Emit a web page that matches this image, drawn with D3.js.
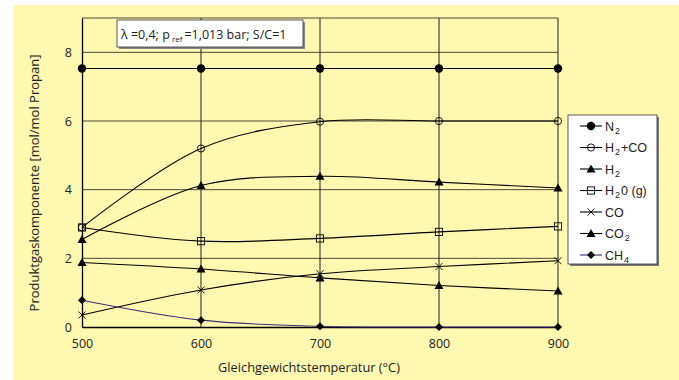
<!DOCTYPE html>
<html>
<head>
<meta charset="utf-8">
<script src="https://cdn.jsdelivr.net/npm/d3@7"></script>
<style>
  body { margin: 0; background: #fff; }
  svg text { font-family: "Open Sans", "Noto Sans", sans-serif; fill: #222; }
  .leg text { font-family: "Liberation Sans", Arial, sans-serif; }
</style>
</head>
<body>
<svg id="canvas"></svg>
<script>
const temps = [500, 600, 700, 800, 900];
const yTicks = [0, 2, 4, 6, 8];

const n2 = [7.53, 7.53, 7.53, 7.53, 7.53];
const h2co = [2.9, 5.2, 5.98, 6.0, 6.0];
const h2 = [2.55, 4.12, 4.39, 4.22, 4.05];
const h2o = [2.9, 2.5, 2.58, 2.77, 2.93];
const co = [0.35, 1.08, 1.55, 1.76, 1.93];
const co2 = [1.88, 1.69, 1.43, 1.21, 1.05];
const ch4 = [0.78, 0.2, 0.02, 0.0, 0.0];

// legend labels: [text, subscript?]
const seriesNames = [
  [["N", false], ["2", true]],
  [["H", false], ["2", true], ["+CO", false]],
  [["H", false], ["2", true]],
  [["H", false], ["2", true], ["0 (g)", false]],
  [["CO", false]],
  [["CO", false], ["2", true]],
  [["CH", false], ["4", true]],
];
const seriesValues = [n2, h2co, h2, h2o, co, co2, ch4];
const seriesMarkers = ["dot", "ring", "tri", "square", "cross", "tri", "diamond"];
const seriesColors = ["#000", "#000", "#000", "#000", "#000", "#000", "#3d2f7a"];

const width = 679;
const height = 380;
const margin = { left: 82, right: 121, top: 18, bottom: 53 };

const svg = d3.select("#canvas").attr("width", width).attr("height", height);

svg.append("rect")
  .attr("x", 13).attr("y", 5)
  .attr("width", width - 13).attr("height", height - 5)
  .attr("fill", "#fff8b0");

const x = d3.scaleLinear().domain([500, 900]).range([margin.left, width - margin.right]);
const y = d3.scaleLinear().domain([0, 9]).range([height - margin.bottom, margin.top]);

// grid
const grid = svg.append("g");
grid.selectAll(".hg")
  .data([2, 4, 6, 8, 9])
  .enter()
  .append("line")
  .attr("x1", x(500)).attr("x2", x(900))
  .attr("y1", (d) => y(d)).attr("y2", (d) => y(d))
  .attr("stroke", "#4a4a3a").attr("stroke-width", 1);
grid.selectAll(".vg")
  .data([600, 700, 800, 900])
  .enter()
  .append("line")
  .attr("x1", (d) => x(d)).attr("x2", (d) => x(d))
  .attr("y1", y(0)).attr("y2", y(9))
  .attr("stroke", "#222").attr("stroke-width", 1);

// axes
const xAxis = d3.axisBottom(x).tickValues(temps).tickSize(0).tickPadding(10);
const yAxis = d3.axisLeft(y).tickValues(yTicks).tickSize(0).tickPadding(10);
const gx = svg.append("g").attr("transform", "translate(0," + y(0) + ")").call(xAxis);
const gy = svg.append("g").attr("transform", "translate(" + x(500) + ",0)").call(yAxis);
gx.select(".domain").attr("stroke", "#000").attr("stroke-width", 1.3);
gy.select(".domain").attr("stroke", "#000").attr("stroke-width", 1.3);
gx.selectAll("text").style("font-size", "12.5px").attr("dy", "0.9em")
  .style("font-family", "'Open Sans', sans-serif").attr("fill", "#333");
gy.selectAll("text").style("font-size", "12.5px")
  .style("font-family", "'Open Sans', sans-serif").attr("fill", "#333");

svg.append("text")
  .attr("x", 309)
  .attr("y", 372)
  .attr("text-anchor", "middle")
  .style("font-size", "12.8px")
  .text("Gleichgewichtstemperatur (°C)");

svg.append("text")
  .attr("transform", "translate(39,183) rotate(-90)")
  .attr("text-anchor", "middle")
  .style("font-size", "13px")
  .text("Produktgaskomponente [mol/mol Propan]");

// lines
const line = d3.line()
  .x((d, i) => x(temps[i]))
  .y((d) => y(d))
  .curve(d3.curveCatmullRom.alpha(0.5));

svg.append("g")
  .selectAll("path")
  .data(seriesValues)
  .enter()
  .append("path")
  .attr("d", (d) => line(d))
  .attr("fill", "none")
  .attr("stroke", (d, i) => seriesColors[i])
  .attr("stroke-width", 1.1);

const drawMarker = (g, type) => {
  if (type === "dot") {
    g.append("circle").attr("r", 4.2).attr("fill", "#000");
  } else if (type === "ring") {
    g.append("circle").attr("r", 3.6).attr("fill", "none").attr("stroke", "#000").attr("stroke-width", 0.9);
  } else if (type === "tri") {
    g.append("path").attr("d", "M0,-4.5L4.5,3.5L-4.5,3.5Z").attr("fill", "#000");
  } else if (type === "square") {
    g.append("rect").attr("x", -3.6).attr("y", -3.6).attr("width", 7.2).attr("height", 7.2)
      .attr("fill", "none").attr("stroke", "#000").attr("stroke-width", 0.9);
  } else if (type === "cross") {
    g.append("path").attr("d", "M-3.5,-3.5L3.5,3.5M-3.5,3.5L3.5,-3.5")
      .attr("stroke", "#000").attr("stroke-width", 0.9);
  } else if (type === "diamond") {
    g.append("path").attr("d", "M0,-4L4,0L0,4L-4,0Z").attr("fill", "#000");
  }
};

seriesValues.forEach((vals, s) => {
  vals.forEach((v, i) => {
    const g = svg.append("g").attr("transform", "translate(" + x(temps[i]) + "," + y(v) + ")");
    drawMarker(g, seriesMarkers[s]);
  });
});

// annotation box
const ann = svg.append("g");
ann.append("rect").attr("x", 119).attr("y", 22).attr("width", 186).attr("height", 27).attr("fill", "#888");
ann.append("rect").attr("x", 117).attr("y", 20).attr("width", 186).attr("height", 27)
  .attr("fill", "#fff").attr("stroke", "#333").attr("stroke-width", 0.8);
const annText = ann.append("text").attr("x", 121).attr("y", 39)
  .style("font-size", "12.5px").style("font-family", "'Open Sans', sans-serif");
annText.append("tspan").text("λ =0,4; p");
annText.append("tspan").attr("dy", 3).style("font-size", "8px").text(" ref ");
annText.append("tspan").attr("dy", -3).text("=1,013 bar; S/C=1");

// legend
const leg = svg.append("g").attr("class", "leg");
leg.append("rect").attr("x", 570).attr("y", 117).attr("width", 89).attr("height", 149).attr("fill", "#777");
leg.append("rect").attr("x", 568).attr("y", 115).attr("width", 89).attr("height", 149)
  .attr("fill", "#fff").attr("stroke", "#333").attr("stroke-width", 0.8);

const legRow = leg.selectAll(".row")
  .data(seriesNames)
  .enter()
  .append("g")
  .attr("transform", (d, i) => "translate(0," + (126 + i * 21.5) + ")");

legRow.append("line")
  .attr("x1", 580).attr("x2", 602)
  .attr("stroke", (d, i) => seriesColors[i]).attr("stroke-width", 1.1);
legRow.each(function (d, i) {
  const g = d3.select(this).append("g").attr("transform", "translate(591,0)");
  drawMarker(g, seriesMarkers[i]);
});

legRow.each(function (parts) {
  const t = d3.select(this).append("text").attr("x", 605).attr("y", 4.5).style("font-size", "12.5px");
  let shifted = false;
  parts.forEach(([p, isSub]) => {
    if (isSub) {
      t.append("tspan").attr("dy", 3).style("font-size", "9px").attr("dx", 1).text(p);
      shifted = true;
    } else {
      t.append("tspan").attr("dy", shifted ? -3 : 0).attr("dx", shifted ? 1 : 0).text(p);
      shifted = false;
    }
  });
});
</script>
</body>
</html>
